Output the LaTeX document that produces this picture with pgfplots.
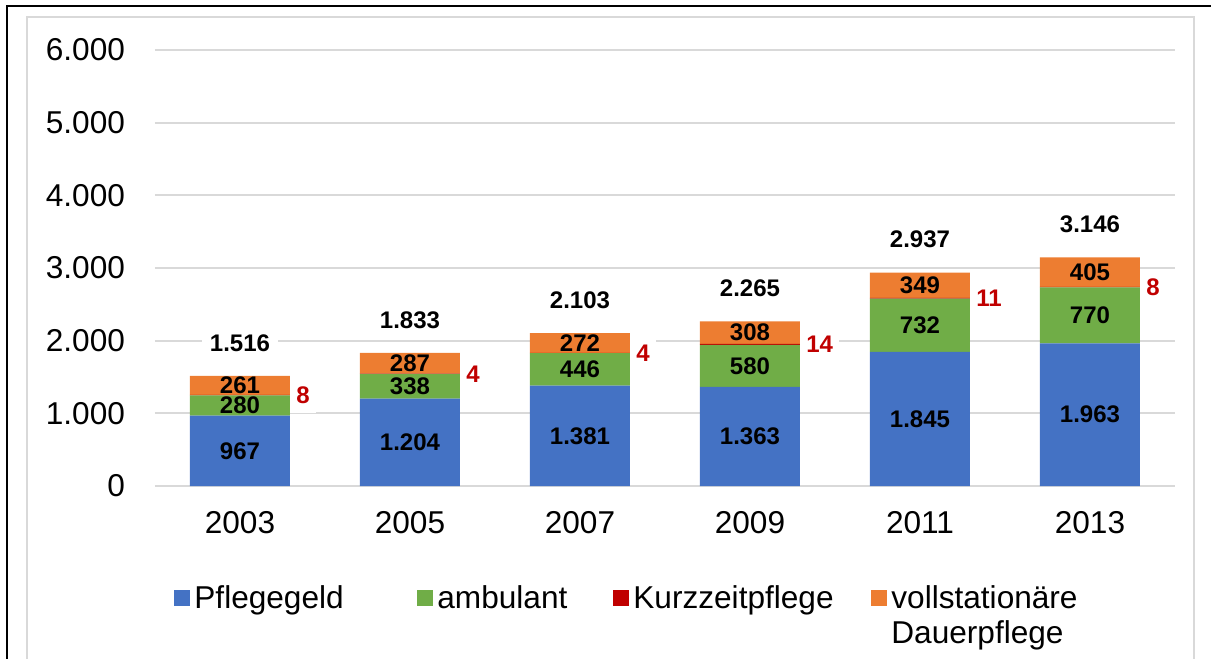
\documentclass[border=0pt]{standalone}
\usepackage{fontspec}
\setmainfont{Liberation Sans}
\usepackage{pgfplots}
\usepackage{pgfplotstable}
\pgfplotsset{compat=1.18}
\definecolor{cPg}{HTML}{4472C4}
\definecolor{cAmb}{HTML}{70AD47}
\definecolor{cKzp}{HTML}{C00000}
\definecolor{cVsd}{HTML}{ED7D31}
\definecolor{gridGray}{HTML}{D9D9D9}

% Leistungsempfaenger je Jahr (Jahre als 0..5)
\pgfplotstableread{
x pg amb kzp vsd total
0 967 280 8 261 1516
1 1204 338 4 287 1833
2 1381 446 4 272 2103
3 1363 580 14 308 2265
4 1845 732 11 349 2937
5 1963 770 8 405 3146
}\pflege

\newcommand{\lblfont}{\fontsize{12}{14}\selectfont\bfseries}
\newcommand{\bigfont}{\fontsize{15.8}{17.5}\selectfont}

\pgfplotsset{
  common/.style={
    scale only axis, width=510pt, height=218pt,
    xmin=-0.5, xmax=5.5, ymin=0, ymax=6000,
    /pgf/number format/1000 sep={.},
    /pgf/number format/assume math mode=true,
  },
  seg label/.style={
    nodes near coords,
    point meta=explicit,
    every node near coord/.append style={font=\lblfont, text=black, anchor=center},
  },
}

\begin{document}
\begin{tikzpicture}
\begin{axis}[
  common,
  ybar stacked, bar width=50pt,
  enlarge x limits=false,
  xtick={0,...,5}, xticklabels={2003,2005,2007,2009,2011,2013},
  ytick={0,1000,...,6000},
  scaled y ticks=false,
  ymajorgrids, grid style={gridGray, line width=1pt},
  axis line style={draw=none},
  major tick length=0pt,
  tick label style={font=\bigfont},
  y tick label style={xshift=-11.5pt},
  x tick label style={yshift=-9.2pt},
  legend columns=4,
  legend style={draw=none, fill=none, at={(rel axis cs:0,0)}, anchor=north west,
    xshift=6.5pt, yshift=-45pt, font=\bigfont,
    /tikz/every even column/.append style={column sep=0pt},
    cells={anchor=base west}},
  legend image code/.code={\fill[#1] (0pt,1.5pt) rectangle (8pt,9.5pt);},
]
\addplot[fill=cPg, draw=none, seg label] table[x=x, y=pg, meta=pg] {\pflege};
\addplot[fill=cAmb, draw=none, seg label] table[x=x, y=amb, meta=amb] {\pflege};
\addplot[fill=cKzp, draw=none, nodes near coords, point meta=explicit,
  every node near coord/.append style={anchor=west, xshift=25pt, fill=white,
    text=cKzp, font=\lblfont, minimum height=18pt, inner xsep=3pt}]
  table[x=x, y=kzp, meta=kzp] {\pflege};
\addplot[fill=cVsd, draw=none, seg label] table[x=x, y=vsd, meta=vsd] {\pflege};
\addlegendentry{\makebox[109.5pt][l]{Pflegegeld}}
\addlegendentry{\makebox[86pt][l]{ambulant}}
\addlegendentry{\makebox[117pt][l]{Kurzzeitpflege}}
\addlegendentry{\begin{tabular}[t]{@{}l@{}}vollstationäre\\Dauerpflege\end{tabular}}
\end{axis}
% Summen ueber den Balken
\begin{axis}[common, hide axis]
\addplot[draw=none, mark=none, nodes near coords, point meta=explicit,
  every node near coord/.append style={anchor=center, yshift=16.5pt, fill=white,
    text=black, font=\lblfont, inner xsep=4pt}]
  table[x=x, y=total, meta=total] {\pflege};
\end{axis}
% Rahmen
\draw[gridGray, line width=1pt] (-63.75pt,-95pt) -- (-63.75pt,234.6pt) -- (519.5pt,234.6pt) -- (519.5pt,-95pt);
\draw[black, line width=1.2pt] (-74pt,-95pt) -- (-74pt,240pt) -- (535pt,240pt);
\pgfresetboundingbox
\useasboundingbox (-77.5pt,-86.5pt) rectangle (528pt,243pt);
\end{tikzpicture}
\end{document}
